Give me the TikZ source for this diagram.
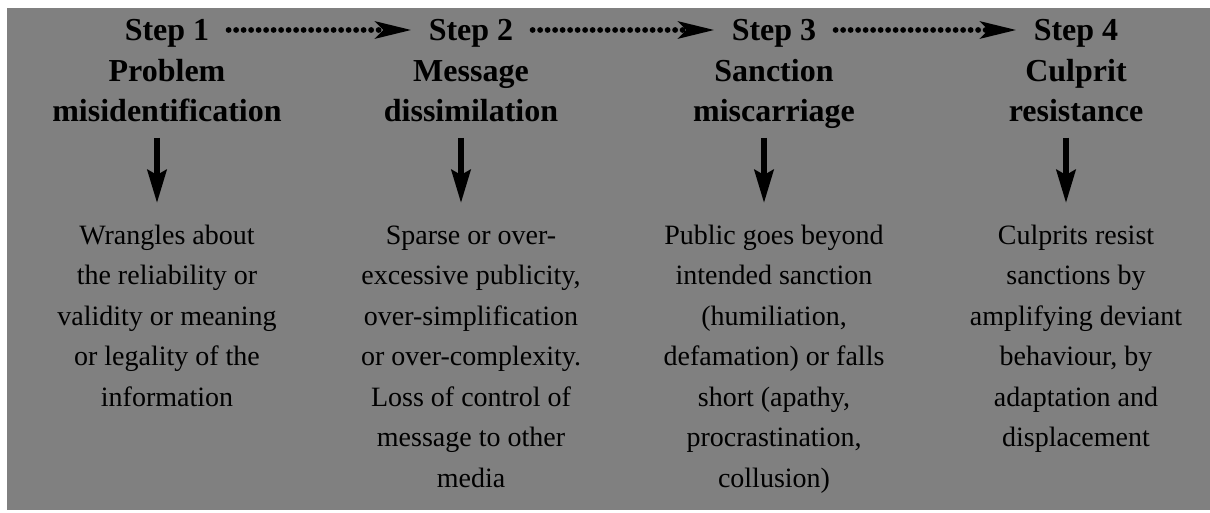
\documentclass[tikz,border=0pt]{standalone}
\usepackage{fontspec}
\setmainfont{Liberation Serif}
\usetikzlibrary{arrows.meta}
\definecolor{bg}{RGB}{128,128,128}
\newcommand{\hstrut}{\rule{0pt}{12pt}}
\newcommand{\bstrut}{\rule{0pt}{11pt}}
\begin{document}
\begin{tikzpicture}[x=0.5pt,y=-0.5pt,
  steplabel/.style={font=\bfseries\fontsize{16}{20}\selectfont, inner sep=0pt, anchor=base},
  headtext/.style={font=\bfseries\fontsize{16}{20}\selectfont, align=center, inner sep=0pt, anchor=north},
  bodytext/.style={font=\fontsize{14}{20.25}\selectfont, align=center, inner sep=0pt, anchor=north},
  dotarrow/.style={line width=2.9pt, line cap=round, dash pattern=on 0pt off 3.75pt,
     -{Stealth[length=18pt,width=8.5pt,inset=4pt]}},
  downarrow/.style={line width=3pt, -{Stealth[length=16.5pt,width=9.5pt,inset=2.5pt]}}
]
\useasboundingbox (0,0) rectangle (1210,513);
\fill[white] (0,0) rectangle (1210,513);
\fill[bg] (7,8) rectangle (1210,510);

% step labels
\node[steplabel] (s1) at (167,41) {Step 1};
\node[steplabel] (s2) at (471,41) {Step 2};
\node[steplabel] (s3) at (774,41) {Step 3};
\node[steplabel] (s4) at (1076,41) {Step 4};

% headings
\node[headtext] (h1) at (167,57) {\hstrut Problem\\misidentification};
\node[headtext] (h2) at (471,57) {\hstrut Message\\dissimilation};
\node[headtext] (h3) at (774,57) {\hstrut Sanction\\miscarriage};
\node[headtext] (h4) at (1076,57) {\hstrut Culprit\\resistance};

% bodies
\node[bodytext] (b1) at (167,222) {\bstrut Wrangles about\\the reliability or\\validity or meaning\\or legality of the\\information};
\node[bodytext] (b2) at (471,222) {\bstrut Sparse or over-\\excessive publicity,\\over-simplification\\or over-complexity.\\Loss of control of\\message to other\\media};
\node[bodytext] (b3) at (774,222) {\bstrut Public goes beyond\\intended sanction\\(humiliation,\\defamation) or falls\\short (apathy,\\procrastination,\\collusion)};
\node[bodytext] (b4) at (1076,222) {\bstrut Culprits resist\\sanctions by\\amplifying deviant\\behaviour, by\\adaptation and\\displacement};

% dotted arrows between steps
\draw[dotarrow] ([shift={(19,-11)}]s1.base east) -- ([shift={(-17,-11)}]s2.base west);
\draw[dotarrow] ([shift={(19,-11)}]s2.base east) -- ([shift={(-17,-11)}]s3.base west);
\draw[dotarrow] ([shift={(19,-11)}]s3.base east) -- ([shift={(-17,-11)}]s4.base west);

% down arrows
\draw[downarrow] ([shift={(-10,81)}]h1.north) -- ([shift={(-10,-19)}]b1.north);
\draw[downarrow] ([shift={(-10,81)}]h2.north) -- ([shift={(-10,-19)}]b2.north);
\draw[downarrow] ([shift={(-10,81)}]h3.north) -- ([shift={(-10,-19)}]b3.north);
\draw[downarrow] ([shift={(-10,81)}]h4.north) -- ([shift={(-10,-19)}]b4.north);
\end{tikzpicture}
\end{document}
